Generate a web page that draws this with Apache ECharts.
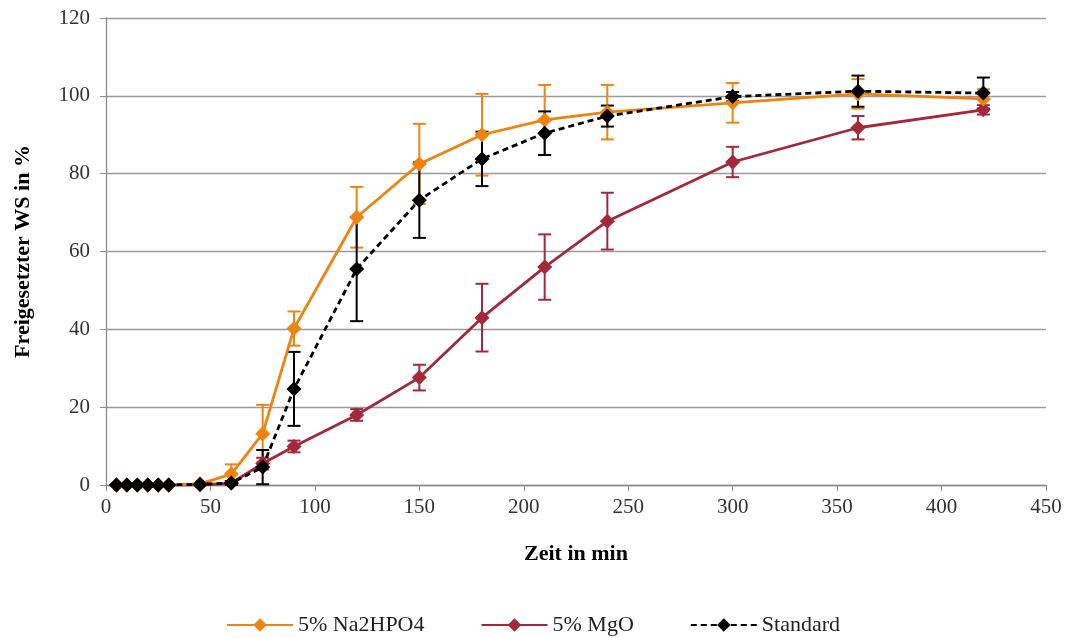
<!DOCTYPE html>
<html><head><meta charset="utf-8">
<script src="https://cdn.jsdelivr.net/npm/echarts@6/dist/echarts.min.js"></script>
<style>html,body{margin:0;padding:0;background:#fff}#c{width:1066px;height:638px}</style>
</head><body><div id="c"></div>
<script>
const times = [5,10,15,20,25,30,45,60,75,90,120,150,180,210,240,300,360,420];
const naVals = [0,0,0,0,0,0,0.3,2.8,13.2,40.2,68.8,82.5,90.0,93.8,95.8,98.2,100.5,99.2];
const naErr  = [0,0,0,0,0,0,0,2.5,7.4,4.4,7.8,10.3,10.5,9.0,7.0,5.1,3.8,2.5];
const mgVals = [0,0,0,0,0,0,0,0.5,5.5,9.9,18.0,27.6,43.0,56.0,67.8,83.0,91.8,96.4];
const mgErr  = [0,0,0,0,0,0,0,0.5,1.5,1.5,1.5,3.3,8.7,8.4,7.3,3.9,3.0,1.2];
const stVals = [0,0,0,0,0,0,0.2,0.5,4.6,24.7,55.5,73.2,83.8,90.4,94.8,99.8,101.2,100.7];
const stErr  = [0,0,0,0,0,0,0,0.5,4.4,9.5,13.4,9.7,7.0,5.6,2.7,1.2,4.0,4.0];
const names = ['5% Na2HPO4','5% MgO','Standard'];
const colors = ['#F0830F','#A2283A','#000000'];

const FONT = '"Liberation Serif", "DejaVu Serif", serif';
const diamond = 'path://M0,-1 L1,0 L0,1 L-1,0 Z';

function pts(v){ return times.map((t,i)=>[t,v[i]]); }
function errPts(v,e){ return times.map((t,i)=>[t,v[i],e[i]]); }
function errSeries(v,e,color,z){
  return {
    type:'custom', silent:true, z:z, data: errPts(v,e),
    renderItem: function(params, api){
      const x = api.value(0), y = api.value(1), er = api.value(2);
      if (!er) return null;
      const top = api.coord([x, y+er]);
      const bot = api.coord([x, Math.max(0,y-er)]);
      const w = 6.5;
      const st = {stroke: color, lineWidth: 2};
      return {type:'group', children:[
        {type:'line', shape:{x1:top[0],y1:top[1],x2:bot[0],y2:bot[1]}, style:st},
        {type:'line', shape:{x1:top[0]-w,y1:top[1],x2:top[0]+w,y2:top[1]}, style:st},
        {type:'line', shape:{x1:bot[0]-w,y1:bot[1],x2:bot[0]+w,y2:bot[1]}, style:st}
      ]};
    }
  };
}
function lineSeries(name, v, color, dashed, z){
  return {
    name:name, type:'line', data:pts(v), z:z,
    symbol:diamond, symbolSize:15, showSymbol:true,
    itemStyle:{color:color},
    lineStyle:{color:color, width:2.8, type: dashed ? [6,4] : 'solid'},
    emphasis:{disabled:true}
  };
}

const chart = echarts.init(document.getElementById('c'), null, {renderer:'canvas'});
chart.setOption({
  animation:false,
  backgroundColor:'#fff',
  textStyle:{fontFamily:FONT},
  grid:{left:106, right:20, top:18, bottom:153},
  xAxis:{
    type:'value', min:0, max:450, interval:50,
    name:'Zeit in min', nameLocation:'middle', nameGap:58,
    nameTextStyle:{fontFamily:FONT, fontSize:22, fontWeight:'bold', color:'#000'},
    axisLine:{show:true, lineStyle:{color:'#8c8c8c', width:1.3}},
    axisTick:{show:true, length:6, lineStyle:{color:'#8c8c8c'}},
    axisLabel:{fontFamily:FONT, fontSize:21, color:'#333', margin:12},
    splitLine:{show:false}
  },
  yAxis:{
    type:'value', min:0, max:120, interval:20,
    name:'Freigesetzter WS in %', nameLocation:'middle', nameGap:72, nameRotate:90,
    nameTextStyle:{fontFamily:FONT, fontSize:22, fontWeight:'bold', color:'#000'},
    axisLine:{show:true, lineStyle:{color:'#8c8c8c', width:1.3}},
    axisTick:{show:true, length:6, lineStyle:{color:'#8c8c8c'}},
    axisLabel:{fontFamily:FONT, fontSize:21, color:'#333', margin:16},
    splitLine:{show:true, lineStyle:{color:'#9a9a9a', width:1.3}}
  },
  legend:{
    data:names, top:609, left:'center', itemWidth:66, itemHeight:17, itemGap:56,
    textStyle:{fontFamily:FONT, fontSize:22, color:'#222'}
  },
  series:[
    errSeries(mgVals, mgErr, colors[1], 2),
    errSeries(naVals, naErr, colors[0], 3),
    errSeries(stVals, stErr, colors[2], 4),
    lineSeries(names[1], mgVals, colors[1], false, 5),
    lineSeries(names[0], naVals, colors[0], false, 6),
    lineSeries(names[2], stVals, colors[2], true, 7)
  ]
});
</script></body></html>
